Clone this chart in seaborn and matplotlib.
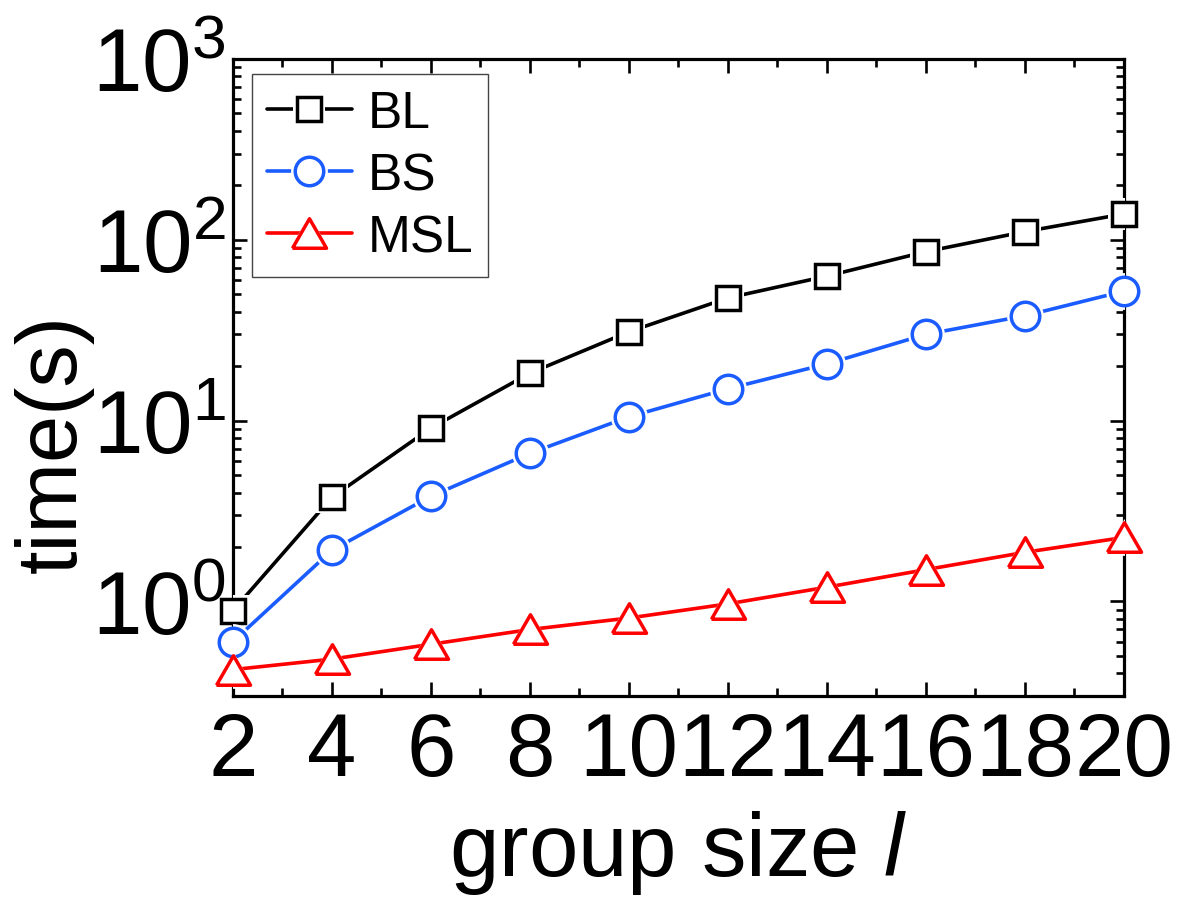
import numpy as np
import pandas as pd
import matplotlib
matplotlib.use("Agg")
import matplotlib.pyplot as plt
import seaborn as sns
from matplotlib.lines import Line2D
from matplotlib.legend_handler import HandlerTuple
from matplotlib.ticker import LogLocator, MultipleLocator, FixedLocator, NullFormatter

# ---- data ----
group_size = [2, 4, 6, 8, 10, 12, 14, 16, 18, 20]
bl = [0.89, 3.77, 9.1, 18.3, 31, 47.7, 63, 86, 111, 139]
bs = [0.60, 1.92, 3.82, 6.6, 10.5, 15, 20.6, 30, 38, 52]
msl = [0.42, 0.48, 0.58, 0.70, 0.81, 0.97, 1.2, 1.5, 1.87, 2.26]
series_names = ["BL", "BS", "MSL"]
x_ticks = [2, 4, 6, 8, 10, 12, 14, 16, 18, 20]
y_ticks = [1, 10, 100, 1000]

colors = {"BL": "#000000", "BS": "#1a5cff", "MSL": "#ff0000"}
tri = [(-1, -0.866), (1, -0.866), (0, 0.866), (-1, -0.866)]
markers = {"BL": "s", "BS": "o", "MSL": tri}
msizes = {"BL": 17, "BS": 20.5, "MSL": 24.5}

df = pd.DataFrame({
    "group size": group_size * 3,
    "time": bl + bs + msl,
    "method": ["BL"] * 10 + ["BS"] * 10 + ["MSL"] * 10,
})

sns.set_theme(style="ticks")
plt.rcParams["font.family"] = ["Liberation Sans", "DejaVu Sans"]
plt.rcParams["mathtext.fontset"] = "custom"
plt.rcParams["mathtext.rm"] = "Liberation Sans"
plt.rcParams["mathtext.it"] = "Liberation Sans:italic"
for k in ["text.color", "axes.labelcolor", "xtick.color", "ytick.color", "axes.edgecolor"]:
    plt.rcParams[k] = "black"

fig = plt.figure(figsize=(11.85, 9.03), dpi=100)
ax = fig.add_axes([0.1966, 0.2281, 0.9485 - 0.1966, 0.9336 - 0.2281])

lw = 2.6
mew = 2.5
halo = 6
handles = []
for i, name in enumerate(series_names):
    sub = df[df["method"] == name]
    z = 3 + 3 * i
    sns.lineplot(data=sub, x="group size", y="time", color=colors[name],
                 linewidth=lw, ax=ax, zorder=z, legend=False)
    # white halo to create gaps around markers
    sns.lineplot(data=sub, x="group size", y="time", color="white",
                 linestyle="none", marker=markers[name], markersize=msizes[name] + halo,
                 markerfacecolor="white", markeredgecolor="white", markeredgewidth=0,
                 ax=ax, zorder=z + 1, legend=False)
    sns.lineplot(data=sub, x="group size", y="time", color=colors[name],
                 linestyle="none", marker=markers[name], markersize=msizes[name],
                 markerfacecolor="white", markeredgecolor=colors[name],
                 markeredgewidth=mew, ax=ax, zorder=z + 2, legend=False, clip_on=False)
    h_line = Line2D([], [], color=colors[name], linewidth=lw)
    h_halo = Line2D([], [], linestyle="none", marker=markers[name],
                    markersize=msizes[name] + halo, markerfacecolor="white",
                    markeredgecolor="white", markeredgewidth=0)
    h_mark = Line2D([], [], linestyle="none", marker=markers[name],
                    markersize=msizes[name], markerfacecolor="white",
                    markeredgecolor=colors[name], markeredgewidth=mew)
    handles.append((h_line, h_halo, h_mark))

ax.set_yscale("log")
ax.set_xlim(2, 20)
ax.set_ylim(0.3, 1000)

ax.xaxis.set_major_locator(FixedLocator(x_ticks))
ax.xaxis.set_minor_locator(MultipleLocator(1))
ax.yaxis.set_major_locator(FixedLocator(y_ticks))
ax.yaxis.set_minor_locator(LogLocator(base=10, subs=np.arange(2, 10)))
ax.yaxis.set_minor_formatter(NullFormatter())
ax.set_yticklabels([r"$\mathdefault{10^{%d}}$" % int(np.log10(v)) for v in y_ticks])

for s in ax.spines.values():
    s.set_linewidth(2.3)
    s.set_color("black")
    s.set_visible(True)

ax.tick_params(which="both", direction="in", top=True, right=True,
               width=1.9, color="black")
ax.tick_params(which="major", length=10, labelsize=64)
ax.tick_params(which="minor", length=5.5)
ax.tick_params(axis="x", which="major", pad=10)
ax.tick_params(axis="y", which="major", pad=5)

ax.set_xlabel(r"group size $\mathit{l}$", fontsize=64, labelpad=10)
ax.set_ylabel("time(s)", fontsize=61)
ax.yaxis.set_label_coords(-0.156, 0.398)

leg = ax.legend(handles, series_names,
                handler_map={tuple: HandlerTuple(ndivide=1, pad=0)},
                loc="upper left", bbox_to_anchor=(0.021, 0.9765), borderaxespad=0,
                fontsize=37, handlelength=1.65, handletextpad=0.3, labelspacing=0.25,
                borderpad=0.3, frameon=True, fancybox=False, framealpha=1,
                edgecolor="#444444")
leg.get_frame().set_linewidth(1.0)
leg.set_zorder(20)

fig.savefig("out.png", dpi=100)
